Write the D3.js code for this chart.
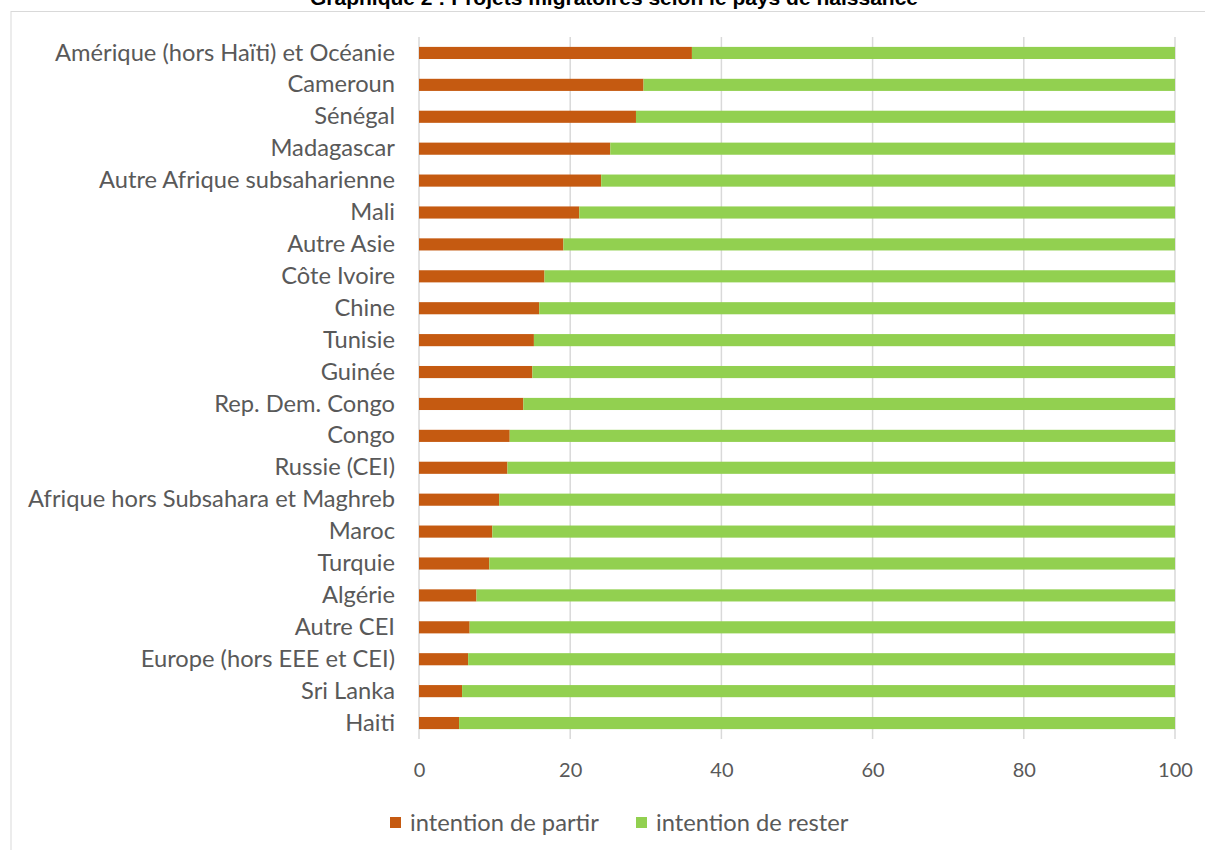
<!DOCTYPE html>
<html>
<head>
<meta charset="utf-8">
<script src="https://cdn.jsdelivr.net/npm/d3@7"></script>
<style>
  html, body { margin: 0; padding: 0; background: #fff; }
  svg { display: block; }
</style>
</head>
<body>
<svg id="chart" width="1205" height="850"></svg>
<script>
// Pays de naissance, du haut vers le bas
const categories = [
  "Amérique (hors Haïti) et Océanie",
  "Cameroun",
  "Sénégal",
  "Madagascar",
  "Autre Afrique subsaharienne",
  "Mali",
  "Autre Asie",
  "Côte Ivoire",
  "Chine",
  "Tunisie",
  "Guinée",
  "Rep. Dem. Congo",
  "Congo",
  "Russie (CEI)",
  "Afrique hors Subsahara et Maghreb",
  "Maroc",
  "Turquie",
  "Algérie",
  "Autre CEI",
  "Europe (hors EEE et CEI)",
  "Sri Lanka",
  "Haiti"
];

// Part (%) ayant l'intention de partir
const partir = [36.1, 29.7, 28.7, 25.3, 24.1, 21.2, 19.1, 16.6, 15.9, 15.2, 15.0,
                13.8, 12.0, 11.7, 10.6, 9.7, 9.3, 7.6, 6.7, 6.5, 5.7, 5.3];
// Part (%) ayant l'intention de rester
const rester = [63.9, 70.3, 71.3, 74.7, 75.9, 78.8, 80.9, 83.4, 84.1, 84.8, 85.0,
                86.2, 88.0, 88.3, 89.4, 90.3, 90.7, 92.4, 93.3, 93.5, 94.3, 94.7];

const seriesNames = ["intention de partir", "intention de rester"];
const xTicks = [0, 20, 40, 60, 80, 100];
const title = "Graphique 2 : Projets migratoires selon le pays de naissance";

const colors = ["#C55A11", "#92D050"];
const textColor = "#595959";
const labelFont = "Lato, 'Open Sans', sans-serif";

const svg = d3.select("#chart");

// Cadre du graphique
svg.append("rect")
  .attr("x", 11).attr("y", 11.5)
  .attr("width", 1300).attr("height", 900)
  .attr("fill", "none")
  .attr("stroke", "#d9d9d9")
  .attr("stroke-width", 1);

// Titre
svg.append("text")
  .attr("x", 614).attr("y", 5)
  .attr("text-anchor", "middle")
  .attr("font-family", "'Liberation Sans', Arial, sans-serif")
  .attr("font-weight", "bold")
  .attr("font-size", 21)
  .attr("fill", "#000")
  .text(title);

const x = d3.scaleLinear().domain([0, 100]).range([419, 1175]);
const y = d3.scaleBand()
  .domain(categories)
  .range([37, 739])
  .paddingInner(0.62)
  .paddingOuter(0.31);

// Quadrillage vertical
svg.append("g")
  .selectAll("line")
  .data(xTicks)
  .join("line")
  .attr("x1", d => x(d)).attr("x2", d => x(d))
  .attr("y1", 37).attr("y2", 739)
  .attr("stroke", "#d9d9d9")
  .attr("stroke-width", 1.5);

// Barres empilées
const rows = categories.map((c, i) => ({ cat: c, partir: partir[i], rester: rester[i] }));
const stack = d3.stack().keys(["partir", "rester"]);
const layers = stack(rows);

svg.append("g")
  .selectAll("g")
  .data(layers)
  .join("g")
  .attr("fill", (d, i) => colors[i])
  .selectAll("rect")
  .data(d => d)
  .join("rect")
  .attr("x", d => x(d[0]))
  .attr("width", d => x(d[1]) - x(d[0]))
  .attr("y", d => y(d.data.cat))
  .attr("height", y.bandwidth());

// Axe des catégories
const yAxis = svg.append("g")
  .attr("transform", "translate(419,0)")
  .call(d3.axisLeft(y).tickSize(0).tickPadding(24));
yAxis.select(".domain").remove();
yAxis.selectAll("text")
  .attr("font-family", labelFont)
  .attr("font-size", 23.7)
  .attr("fill", textColor);

// Axe des valeurs
const xAxis = svg.append("g")
  .attr("transform", "translate(0,760)")
  .call(d3.axisBottom(x).tickValues(xTicks).tickSize(0).tickPadding(3));
xAxis.select(".domain").remove();
xAxis.selectAll("text")
  .attr("font-family", labelFont)
  .attr("font-size", 20)
  .attr("fill", textColor);

// Légende
const legendX = [390, 636];
const legend = svg.append("g")
  .selectAll("g")
  .data(seriesNames)
  .join("g")
  .attr("transform", (d, i) => `translate(${legendX[i]},817)`);
legend.append("rect")
  .attr("width", 11).attr("height", 11)
  .attr("fill", (d, i) => colors[i]);
legend.append("text")
  .attr("x", 20).attr("y", 6)
  .attr("dy", "0.35em")
  .attr("font-family", labelFont)
  .attr("font-size", 23.7)
  .attr("fill", textColor)
  .text(d => d);
</script>
</body>
</html>
